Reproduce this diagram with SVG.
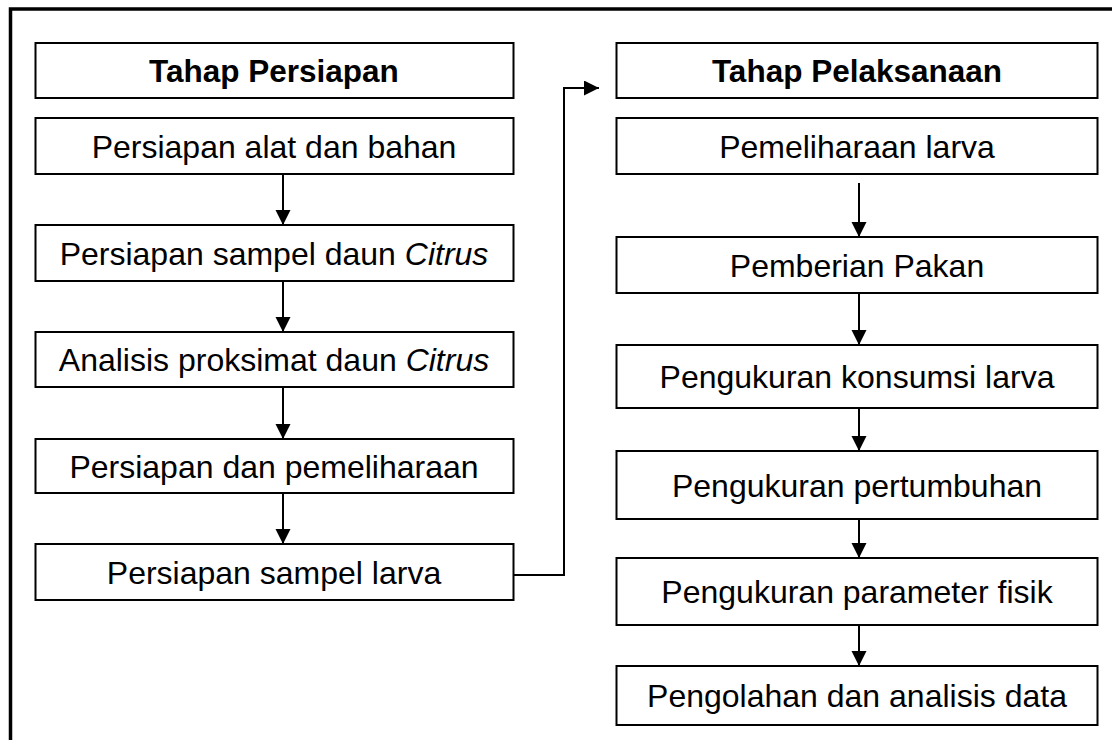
<svg xmlns="http://www.w3.org/2000/svg" width="1112" height="740" viewBox="0 0 1112 740">
<style>
.box{fill:#fff;stroke:#000;stroke-width:2}
.t{font-family:"Liberation Sans",Arial,sans-serif;font-size:32px;fill:#000;text-anchor:middle}
.b{font-weight:bold;font-size:31.5px}
.c{fill:none;stroke:#000;stroke-width:2}
</style>
<defs>
<marker id="ah" markerUnits="userSpaceOnUse" markerWidth="16" markerHeight="16" refX="15" refY="7.5" orient="auto">
<path d="M0,0 L15,7.5 L0,15 z" fill="#000"/>
</marker>
</defs>
<rect width="1112" height="740" fill="#fff"/>
<path d="M10.5,740 V9 H1112" fill="none" stroke="#000" stroke-width="3.5"/>

<g id="n1"><rect class="box" x="35.5" y="43" width="478" height="55"/><text class="t b" x="274" y="82">Tahap Persiapan</text></g>
<g id="n2"><rect class="box" x="35.5" y="118" width="478" height="56"/><text class="t" x="274" y="158">Persiapan alat dan bahan</text></g>
<g id="n3"><rect class="box" x="35.5" y="225" width="478" height="56"/><text class="t" x="274" y="265">Persiapan sampel daun <tspan font-style="italic">Citrus</tspan></text></g>
<g id="n4"><rect class="box" x="35.5" y="332" width="478" height="55"/><text class="t" x="274" y="371">Analisis proksimat daun <tspan font-style="italic">Citrus</tspan></text></g>
<g id="n5"><rect class="box" x="35.5" y="439" width="478" height="54"/><text class="t" x="274" y="478">Persiapan dan pemeliharaan</text></g>
<g id="n6"><rect class="box" x="35.5" y="544" width="478" height="56"/><text class="t" x="274" y="584">Persiapan sampel larva</text></g>

<g id="m1"><rect class="box" x="616.5" y="43" width="481" height="55"/><text class="t b" x="857" y="82">Tahap Pelaksanaan</text></g>
<g id="m2"><rect class="box" x="616.5" y="118" width="481" height="56"/><text class="t" x="857" y="158">Pemeliharaan larva</text></g>
<g id="m3"><rect class="box" x="616.5" y="237" width="481" height="56"/><text class="t" x="857" y="277">Pemberian Pakan</text></g>
<g id="m4"><rect class="box" x="616.5" y="345" width="481" height="63"/><text class="t" x="857" y="388">Pengukuran konsumsi larva</text></g>
<g id="m5"><rect class="box" x="616.5" y="451" width="481" height="68"/><text class="t" x="857" y="497">Pengukuran pertumbuhan</text></g>
<g id="m6"><rect class="box" x="616.5" y="558" width="481" height="67"/><text class="t" x="857" y="603">Pengukuran parameter fisik</text></g>
<g id="m7"><rect class="box" x="616.5" y="666" width="481" height="59"/><text class="t" x="857" y="707">Pengolahan dan analisis data</text></g>

<g id="connectors">
<line class="c" x1="283" y1="174" x2="283" y2="225" marker-end="url(#ah)"/>
<line class="c" x1="283" y1="281" x2="283" y2="332" marker-end="url(#ah)"/>
<line class="c" x1="283" y1="387" x2="283" y2="439" marker-end="url(#ah)"/>
<line class="c" x1="283" y1="493" x2="283" y2="544" marker-end="url(#ah)"/>
<polyline class="c" points="514,575 564,575 564,88 599,88" marker-end="url(#ah)"/>
<line class="c" x1="859" y1="183" x2="859" y2="237" marker-end="url(#ah)"/>
<line class="c" x1="859" y1="293" x2="859" y2="345" marker-end="url(#ah)"/>
<line class="c" x1="859" y1="408" x2="859" y2="451" marker-end="url(#ah)"/>
<line class="c" x1="859" y1="519" x2="859" y2="558" marker-end="url(#ah)"/>
<line class="c" x1="859" y1="625" x2="859" y2="666" marker-end="url(#ah)"/>
</g>
</svg>
